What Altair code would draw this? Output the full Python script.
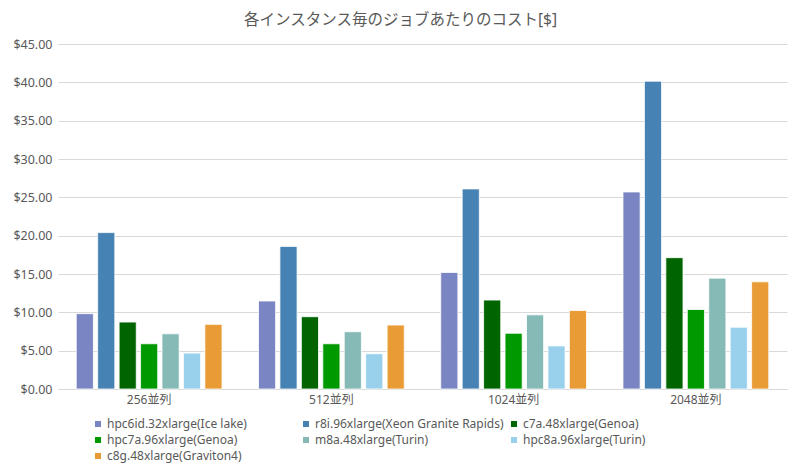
import altair as alt
import pandas as pd

categories = ["256並列", "512並列", "1024並列", "2048並列"]
series = [
    "hpc6id.32xlarge(Ice lake)",
    "r8i.96xlarge(Xeon Granite Rapids)",
    "c7a.48xlarge(Genoa)",
    "hpc7a.96xlarge(Genoa)",
    "m8a.48xlarge(Turin)",
    "hpc8a.96xlarge(Turin)",
    "c8g.48xlarge(Graviton4)",
]
colors = ["#7A86C4", "#4682B4", "#006400", "#009900", "#85BAB6", "#99D1EC", "#E99B35"]

hpc6id = [9.83, 11.48, 15.2, 25.7]
r8i = [20.4, 18.6, 26.1, 40.15]
c7a = [8.73, 9.43, 11.6, 17.13]
hpc7a = [5.9, 5.9, 7.27, 10.37]
m8a = [7.2, 7.47, 9.67, 14.46]
hpc8a = [4.68, 4.6, 5.62, 8.06]
c8g = [8.43, 8.34, 10.24, 13.98]

values = [hpc6id, r8i, c7a, hpc7a, m8a, hpc8a, c8g]
rows = []
for s, vals in zip(series, values):
    for c, v in zip(categories, vals):
        rows.append({"parallel": c, "instance": s, "cost": v})
df = pd.DataFrame(rows)

FONT = "Noto Sans, Noto Sans CJK JP"
GRAY = "#595959"

chart = (
    alt.Chart(df)
    .mark_bar(stroke="white", strokeWidth=0.8)
    .encode(
        x=alt.X(
            "parallel:N",
            sort=categories,
            title=None,
            scale=alt.Scale(paddingInner=0.2, paddingOuter=0.1),
            axis=alt.Axis(
                labelAngle=0,
                ticks=False,
                domainColor="#D9D9D9",
                labelColor=GRAY,
                labelFont=FONT,
                labelFontSize=12,
                labelPadding=5,
            ),
        ),
        xOffset=alt.XOffset(
            "instance:N", sort=series, scale=alt.Scale(paddingInner=0.2, paddingOuter=0)
        ),
        y=alt.Y(
            "cost:Q",
            title=None,
            scale=alt.Scale(domain=[0, 45]),
            axis=alt.Axis(
                values=[0, 5, 10, 15, 20, 25, 30, 35, 40, 45],
                format="$.2f",
                domain=False,
                ticks=False,
                gridColor="#D9D9D9",
                gridWidth=1,
                labelColor=GRAY,
                labelFont=FONT,
                labelFontSize=12.5,
                labelPadding=6,
            ),
        ),
        color=alt.Color(
            "instance:N",
            sort=series,
            scale=alt.Scale(domain=series, range=colors),
            legend=alt.Legend(
                title=None,
                orient="none",
                legendX=34,
                legendY=374,
                direction="horizontal",
                columns=3,
                gridAlign="all",
                columnPadding=4,
                rowPadding=4,
                symbolType="square",
                symbolSize=36,
                symbolStrokeWidth=0,
                labelOffset=3,
                labelColor=GRAY,
                labelFont=FONT,
                labelFontSize=12,
                labelLimit=400,
            ),
        ),
    )
    .properties(
        width=729,
        height=345,
        autosize=alt.AutoSizeParams(type="none"),
        padding={"left": 50, "top": 36, "right": 5, "bottom": 75},
        title=alt.TitleParams(
            "各インスタンス毎のジョブあたりのコスト[$]",
            font=FONT,
            fontSize=15.5,
            fontWeight="normal",
            color=GRAY,
            anchor="middle",
            dx=-22,
            offset=10,
        ),
    )
    .configure_view(stroke=None)
)

chart.save("out.html", embed_options={"renderer": "svg", "actions": False})
